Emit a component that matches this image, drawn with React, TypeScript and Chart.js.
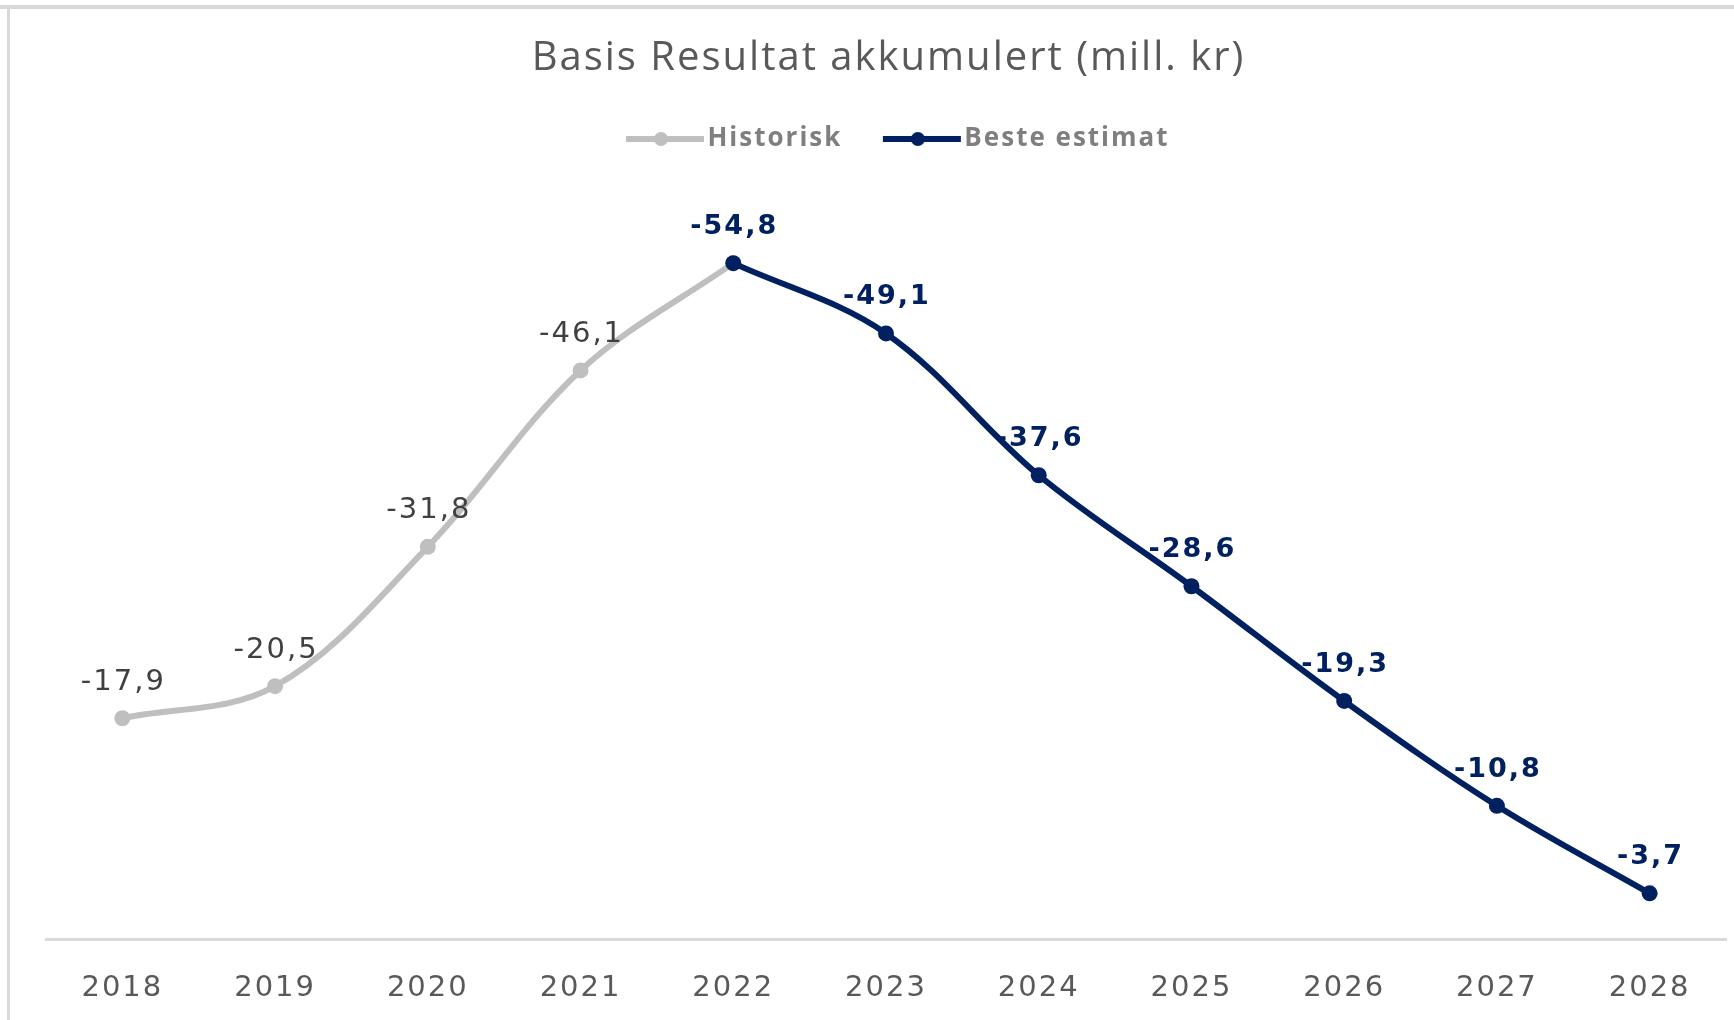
import { useEffect, useRef } from "react";
import { Chart, registerables } from "chart.js";

Chart.register(...registerables);

const years = ["2018", "2019", "2020", "2021", "2022", "2023", "2024", "2025", "2026", "2027", "2028"];
const historisk = [-17.9, -20.5, -31.8, -46.1, -54.8, null, null, null, null, null, null];
const besteEstimat = [null, null, null, null, -54.8, -49.1, -37.6, -28.6, -19.3, -10.8, -3.7];
const seriesNames = ["Historisk", "Beste estimat"];
const seriesColors = ["#bfbfbf", "#002060"];
const labelColors = ["#404040", "#002060"];
const titleText = "Basis Resultat akkumulert (mill. kr)";
const yMin = -60;
const yMax = 0;

const LEGEND_GAP = 37;
const LEGEND_SHIFT = 9;

function legendIcon(color: string): HTMLCanvasElement {
  const c = document.createElement("canvas");
  c.width = 96;
  c.height = 20;
  const g = c.getContext("2d")!;
  g.strokeStyle = color;
  g.lineWidth = 6;
  g.beginPath();
  g.moveTo(14, 10);
  g.lineTo(92, 10);
  g.stroke();
  g.fillStyle = color;
  g.beginPath();
  g.arc(49, 10, 7, 0, Math.PI * 2);
  g.fill();
  return c;
}

const spacingPlugin = {
  id: "spacing",
  beforeUpdate(c: any) {
    c.ctx.letterSpacing = "2px";
  },
  beforeLayout(c: any) {
    c.ctx.letterSpacing = "2px";
    const lg = c.legend;
    if (lg && !lg._gapPatched) {
      const orig = lg.fit.bind(lg);
      lg.fit = function () {
        orig();
        this.height += LEGEND_GAP;
      };
      lg._gapPatched = true;
    }
  },
  afterLayout(c: any) {
    const lg = c.legend;
    if (lg) {
      lg.left += LEGEND_SHIFT;
      lg.right += LEGEND_SHIFT;
    }
  },
  beforeDraw(c: any) {
    const ctx = c.ctx;
    ctx.letterSpacing = "2px";
    ctx.save();
    ctx.strokeStyle = "#d9d9d9";
    ctx.lineWidth = 4;
    ctx.beginPath();
    ctx.moveTo(0, 7);
    ctx.lineTo(1734, 7);
    ctx.stroke();
    ctx.lineWidth = 3;
    ctx.beginPath();
    ctx.moveTo(8.5, 7);
    ctx.lineTo(8.5, 1020);
    ctx.stroke();
    ctx.restore();
  },
};

const dataLabelPlugin = {
  id: "dataLabels",
  afterDatasetsDraw(chart: any) {
    const ctx = chart.ctx;
    ctx.save();
    ctx.letterSpacing = "2px";
    ctx.textAlign = "center";
    ctx.textBaseline = "middle";
    chart.data.datasets.forEach((ds: any, di: number) => {
      const meta = chart.getDatasetMeta(di);
      meta.data.forEach((pt: any, i: number) => {
        const v = ds.data[i];
        if (v === null || v === undefined) return;
        if (di === 0 && besteEstimat[i] !== null) return;
        ctx.font = di === 1 ? 'bold 27px "DejaVu Sans"' : '29px "DejaVu Sans"';
        ctx.fillStyle = labelColors[di];
        ctx.fillText(v.toFixed(1).replace(".", ","), pt.x + 1, pt.y - 36);
      });
    });
    ctx.restore();
  },
};

export default function App() {
  const ref = useRef<HTMLCanvasElement>(null);
  useEffect(() => {
    const icons = seriesColors.map((c) => legendIcon(c));
    const chart = new Chart(ref.current!, {
      type: "line",
      data: {
        labels: years,
        datasets: [
          {
            label: seriesNames[0],
            data: historisk,
            borderColor: seriesColors[0],
            backgroundColor: seriesColors[0],
            borderWidth: 6,
            pointRadius: 8,
            pointBorderWidth: 0,
            pointBackgroundColor: seriesColors[0],
            tension: 0.35,
            order: 2,
          },
          {
            label: seriesNames[1],
            data: besteEstimat,
            borderColor: seriesColors[1],
            backgroundColor: seriesColors[1],
            borderWidth: 6,
            pointRadius: 8,
            pointBorderWidth: 0,
            pointBackgroundColor: seriesColors[1],
            tension: 0.35,
            order: 1,
          },
        ],
      },
      options: {
        animation: false,
        responsive: false,
        devicePixelRatio: 1,
        events: [],
        layout: { padding: { top: 39, left: 46, right: 3, bottom: -17 } },
        scales: {
          x: {
            offset: true,
            grid: { display: false, drawTicks: false },
            border: { display: true, color: "#d9d9d9", width: 3 },
            ticks: {
              padding: 31.6,
              color: "#595959",
              font: { family: "DejaVu Sans", size: 29, lineHeight: 1.2 },
              maxRotation: 0,
              autoSkip: false,
            },
          },
          y: {
            display: false,
            reverse: true,
            min: yMin,
            max: yMax,
          },
        },
        plugins: {
          tooltip: { enabled: false },
          title: {
            display: true,
            text: titleText,
            color: "#595959",
            font: { family: "Open Sans", size: 40, weight: "normal", lineHeight: 1 },
            padding: { top: 0, bottom: 7 },
          },
          legend: {
            display: true,
            position: "top",
            labels: {
              usePointStyle: true,
              pointStyleWidth: 69,
              padding: 40,
              color: "#7f7f7f",
              font: { family: "Open Sans", size: 26, weight: "bold", lineHeight: 1 },
              generateLabels: () =>
                seriesNames.map((n, i) => ({
                  text: n,
                  pointStyle: icons[i],
                  fillStyle: seriesColors[i],
                  strokeStyle: seriesColors[i],
                  lineWidth: 0,
                  hidden: false,
                  datasetIndex: i,
                  fontColor: "#7f7f7f",
                })),
            },
          },
        },
      },
      plugins: [spacingPlugin, dataLabelPlugin],
    } as any);
    return () => chart.destroy();
  }, []);
  return (
    <div style={{ position: "fixed", left: 0, top: 0, width: 1734, height: 1020, background: "#fff" }}>
      <canvas ref={ref} width={1734} height={1020} style={{ width: 1734, height: 1020, display: "block" }} />
    </div>
  );
}
